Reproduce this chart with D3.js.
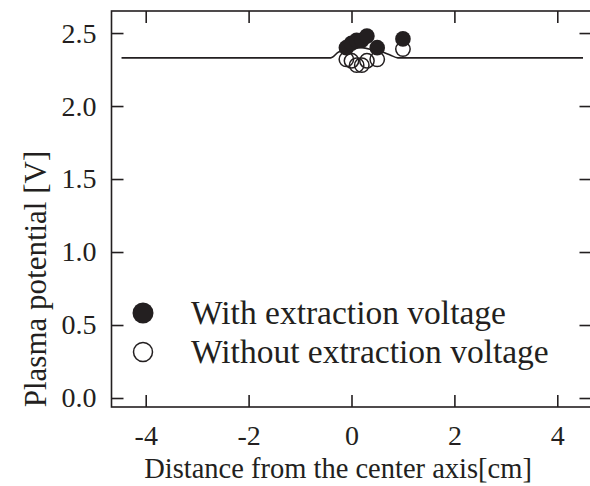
<!DOCTYPE html>
<html>
<head>
<meta charset="utf-8">
<script src="https://cdn.jsdelivr.net/npm/d3@7"></script>
<style>
  body { margin: 0; background: #fff; }
  text { font-family: "Liberation Serif", "Times New Roman", serif; fill: #231f20; }
</style>
</head>
<body>
<script>
// measured points, x in cm, y in V
var withX = [-0.1, 0.0, 0.1, 0.2, 0.3, 0.5, 1.0];
var withY = [2.40, 2.43, 2.45, 2.45, 2.48, 2.40, 2.46];
var withoutX = [-0.1, 0.0, 0.1, 0.2, 0.3, 0.5, 1.0];
var withoutY = [2.32, 2.31, 2.28, 2.28, 2.31, 2.32, 2.39];
// calculated profile (solid line)
var lineX = [-4.47, -0.4, -0.25, 0.0, 0.2, 0.45, 0.6, 0.75, 0.9, 4.5];
var lineY = [2.33, 2.33, 2.37, 2.39, 2.40, 2.38, 2.37, 2.35, 2.33, 2.33];
var xTicks = [-4, -2, 0, 2, 4];
var yTicks = [0.0, 0.5, 1.0, 1.5, 2.0, 2.5];
var legendLabels = ["With extraction voltage", "Without extraction voltage"];

var W = 590, H = 486;
var m = {top: 11, right: -1.5, bottom: 79, left: 111.5};

var svg = d3.select("body").append("svg")
  .attr("width", W)
  .attr("height", H);

var x = d3.scaleLinear().domain([-4.665, 4.665]).range([m.left, W - m.right]);
var y = d3.scaleLinear().domain([-0.0616, 2.651]).range([H - m.bottom, m.top]);

var ink = "#231f20";
var tickLen = 12;

// frame
svg.append("rect")
  .attr("x", m.left).attr("y", m.top)
  .attr("width", W - m.right - m.left).attr("height", H - m.bottom - m.top)
  .attr("fill", "none").attr("stroke", ink).attr("stroke-width", 1.6);

// axes with inward ticks
var gx = svg.append("g").attr("transform", "translate(0," + (H - m.bottom) + ")")
  .call(d3.axisBottom(x).tickValues(xTicks).tickSizeInner(-tickLen).tickSizeOuter(0).tickPadding(tickLen + 6));
var gxt = svg.append("g").attr("transform", "translate(0," + m.top + ")")
  .call(d3.axisTop(x).tickValues(xTicks).tickSizeInner(-tickLen).tickSizeOuter(0).tickFormat(""));
var gy = svg.append("g").attr("transform", "translate(" + m.left + ",0)")
  .call(d3.axisLeft(y).tickValues(yTicks).tickSizeInner(-tickLen).tickSizeOuter(0).tickPadding(tickLen + 3).tickFormat(d3.format(".1f")));
var gyr = svg.append("g").attr("transform", "translate(" + (W - m.right) + ",0)")
  .call(d3.axisRight(y).tickValues(yTicks).tickSizeInner(-tickLen).tickSizeOuter(0).tickFormat(""));

[gx, gxt, gy, gyr].forEach(function(g) {
  g.select(".domain").remove();
  g.selectAll(".tick line").attr("stroke", ink).attr("stroke-width", 1.6);
  g.selectAll(".tick text")
    .attr("font-size", 28)
    .attr("fill", ink);
});
gx.selectAll(".tick text").text(function(d) { return d3.format("d")(d).replace("−", "-"); });

// axis titles
svg.append("text")
  .attr("x", 338).attr("y", 478)
  .attr("text-anchor", "middle")
  .attr("font-size", 28.5)
  .text("Distance from the center axis[cm]");

svg.append("text")
  .attr("transform", "translate(46," + 279 + ") rotate(-90)")
  .attr("text-anchor", "middle")
  .attr("font-size", 31)
  .text("Plasma potential [V]");

// solid line
var lineData = lineX.map(function(d, i) { return [d, lineY[i]]; });
svg.append("path")
  .datum(lineData)
  .attr("fill", "none")
  .attr("stroke", ink)
  .attr("stroke-width", 1.6)
  .attr("d", d3.line().x(function(d) { return x(d[0]); }).y(function(d) { return y(d[1]); }).curve(d3.curveMonotoneX));

// open circles
svg.selectAll("circle.open")
  .data(withoutX.map(function(d, i) { return [d, withoutY[i]]; }))
  .enter().append("circle")
  .attr("class", "open")
  .attr("cx", function(d) { return x(d[0]); })
  .attr("cy", function(d) { return y(d[1]); })
  .attr("r", 7.2)
  .attr("fill", "none")
  .attr("stroke", ink)
  .attr("stroke-width", 1.5);

// filled circles
svg.selectAll("circle.filled")
  .data(withX.map(function(d, i) { return [d, withY[i]]; }))
  .enter().append("circle")
  .attr("class", "filled")
  .attr("cx", function(d) { return x(d[0]); })
  .attr("cy", function(d) { return y(d[1]); })
  .attr("r", 7.8)
  .attr("fill", ink);

// legend
var leg = svg.append("g");
leg.append("circle").attr("cx", 143).attr("cy", 313).attr("r", 10.5).attr("fill", ink);
leg.append("circle").attr("cx", 143).attr("cy", 352).attr("r", 9.5)
  .attr("fill", "none").attr("stroke", ink).attr("stroke-width", 1.5);
leg.selectAll("text")
  .data(legendLabels)
  .enter().append("text")
  .attr("x", 191)
  .attr("y", function(d, i) { return 324 + i * 39; })
  .attr("font-size", 33.5)
  .text(function(d) { return d; });
</script>
</body>
</html>
